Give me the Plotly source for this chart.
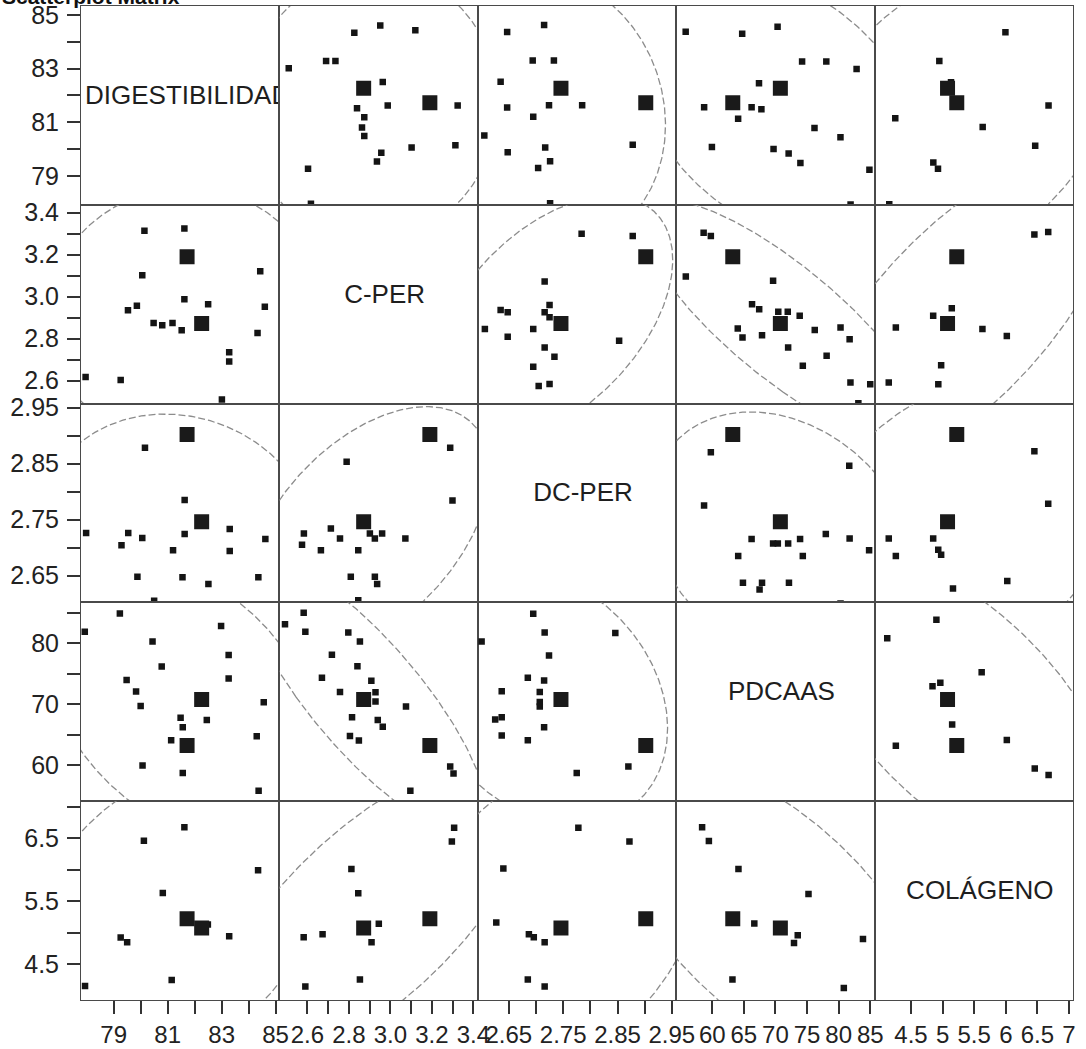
import numpy as np
import plotly.graph_objects as go
from plotly.subplots import make_subplots

variables = ["DIGESTIBILIDAD", "C-PER", "DC-PER", "PDCAAS", "COLÁGENO"]

# axis limits per variable (horizontal axes / vertical axes, as drawn)
dig_xrange = [77.79, 85.14]
dig_yrange = [77.92, 85.33]
cper_xrange = [2.465, 3.421]
cper_yrange = [2.490, 3.437]
dcper_xrange = [2.593, 2.958]
dcper_yrange = [2.602, 2.957]
pdcaas_xrange = [54.30, 85.69]
pdcaas_yrange = [54.10, 86.69]
col_xrange = [3.924, 7.063]
col_yrange = [3.935, 7.091]

# bottom (x) tick values / labels
dig_xticks = [79, 80, 81, 82, 83, 84, 85]
dig_xlabels = ["79", "", "81", "", "83", "", "85"]
cper_xticks = [2.6, 2.7, 2.8, 2.9, 3.0, 3.1, 3.2, 3.3, 3.4]
cper_xlabels = ["2.6", "", "2.8", "", "3.0", "", "3.2", "", "3.4"]
dcper_xticks = [2.65, 2.70, 2.75, 2.80, 2.85, 2.90, 2.95]
dcper_xlabels = ["2.65", "", "2.75", "", "2.85", "", "2.95"]
pdcaas_xticks = [60, 65, 70, 75, 80, 85]
pdcaas_xlabels = ["60", "65", "70", "75", "80", "85"]
col_xticks = [4.5, 5.0, 5.5, 6.0, 6.5, 7.0]
col_xlabels = ["4.5", "5", "5.5", "6", "6.5", "7"]

# left (y) tick values / labels
dig_yticks = [79, 80, 81, 82, 83, 84, 85]
dig_ylabels = ["79", "", "81", "", "83", "", "85"]
cper_yticks = [2.6, 2.7, 2.8, 2.9, 3.0, 3.1, 3.2, 3.3, 3.4]
cper_ylabels = ["2.6", "", "2.8", "", "3.0", "", "3.2", "", "3.4"]
dcper_yticks = [2.65, 2.70, 2.75, 2.80, 2.85, 2.90, 2.95]
dcper_ylabels = ["2.65", "", "2.75", "", "2.85", "", "2.95"]
pdcaas_yticks = [60, 65, 70, 75, 80, 85]
pdcaas_ylabels = ["60", "", "70", "", "80", ""]
col_yticks = [4.5, 5.0, 5.5, 6.0, 6.5, 7.0]
col_ylabels = ["4.5", "", "5.5", "", "6.5", ""]

# highlighted observations (large squares)
hl_dig = [81.72, 82.26]
hl_cper = [3.19, 2.871]
hl_dcper = [2.902, 2.746]
hl_pdcaas = [63.25, 70.78]
hl_col = [5.224, 5.078]

# pairwise observations
p12_cper = [2.510, 2.690, 2.735, 2.826, 2.951, 3.120, 2.963, 2.839, 2.874, 2.863,
            2.874, 2.987, 3.324, 3.102, 3.313, 2.956, 2.935, 2.603, 2.617]
p12_dig = [83.01, 83.28, 83.28, 84.33, 84.60, 84.43, 82.50, 81.52, 81.18, 80.80,
           80.48, 81.62, 81.62, 80.06, 80.14, 79.86, 79.53, 79.26, 77.96]

p13_dcper = [2.647, 2.715, 2.694, 2.733, 2.635, 2.647, 2.724, 2.785, 2.695, 2.605,
             2.648, 2.717, 2.726, 2.704, 2.878, 2.726]
p13_dig = [84.36, 84.62, 83.30, 83.30, 82.51, 81.55, 81.63, 81.63, 81.20, 80.50,
           79.88, 80.06, 79.54, 79.29, 80.16, 77.98]

p14_pdcaas = [55.80, 64.74, 70.34, 74.22, 78.05, 82.84, 67.40, 58.72, 66.23, 67.78,
              64.10, 76.18, 80.29, 59.95, 69.70, 72.09, 73.95, 84.87, 81.89]
p14_dig = [84.37, 84.30, 84.56, 83.26, 83.26, 82.98, 82.45, 81.56, 81.56, 81.48,
           81.13, 80.78, 80.44, 80.07, 80.00, 79.83, 79.48, 79.23, 77.93]

p15_col = [5.994, 4.948, 5.133, 6.676, 4.251, 5.634, 6.465, 4.853, 4.927, 4.156]
p15_dig = [84.35, 83.28, 82.49, 81.62, 81.15, 80.82, 80.12, 79.50, 79.26, 77.94]

p23_dcper = [2.784, 2.878, 2.716, 2.635, 2.648, 2.716, 2.725, 2.725, 2.606, 2.695,
             2.648, 2.716, 2.734, 2.695, 2.705, 2.725, 2.853]
p23_cper = [3.299, 3.288, 3.072, 2.936, 2.925, 2.925, 2.960, 2.901, 2.845, 2.845,
            2.809, 2.757, 2.713, 2.665, 2.574, 2.583, 2.789]

p24_pdcaas = [58.64, 59.78, 55.82, 69.63, 66.30, 67.43, 70.45, 71.95, 73.84, 64.04,
              76.22, 80.30, 64.79, 67.88, 81.74, 72.01, 78.10, 74.33, 81.87, 85.00, 83.12]
p24_cper = [3.304, 3.288, 3.096, 3.075, 2.963, 2.939, 2.928, 2.928, 2.908, 2.848,
            2.841, 2.853, 2.805, 2.815, 2.797, 2.757, 2.718, 2.670, 2.590, 2.582, 2.492]

p25_col = [6.452, 6.671, 4.851, 5.145, 4.260, 5.630, 6.016, 4.977, 4.148, 4.932]
p25_cper = [3.296, 3.307, 2.909, 2.944, 2.853, 2.845, 2.812, 2.673, 2.590, 2.582]

p34_pdcaas = [59.78, 81.68, 58.71, 66.23, 64.11, 69.63, 70.38, 72.01, 73.90, 77.97,
              81.74, 84.82, 74.33, 64.86, 67.88, 67.49, 72.14, 80.30]
p34_dcper = [2.870, 2.846, 2.775, 2.715, 2.685, 2.707, 2.707, 2.707, 2.715, 2.724,
             2.716, 2.695, 2.685, 2.637, 2.637, 2.625, 2.637, 2.600]

p35_col = [6.452, 6.671, 4.148, 4.851, 4.260, 4.931, 4.977, 6.023, 5.164]
p35_dcper = [2.872, 2.778, 2.716, 2.716, 2.685, 2.696, 2.687, 2.640, 2.627]

p45_col = [4.902, 4.124, 5.618, 4.840, 4.964, 5.151, 4.260, 6.016, 6.458, 6.677]
p45_pdcaas = [83.85, 80.82, 75.23, 72.94, 73.53, 66.66, 63.20, 64.15, 59.47, 58.40]

xranges = [dig_xrange, cper_xrange, dcper_xrange, pdcaas_xrange, col_xrange]
yranges = [dig_yrange, cper_yrange, dcper_yrange, pdcaas_yrange, col_yrange]
xticks = [(dig_xticks, dig_xlabels), (cper_xticks, cper_xlabels), (dcper_xticks, dcper_xlabels),
          (pdcaas_xticks, pdcaas_xlabels), (col_xticks, col_xlabels)]
yticks = [(dig_yticks, dig_ylabels), (cper_yticks, cper_ylabels), (dcper_yticks, dcper_ylabels),
          (pdcaas_yticks, pdcaas_ylabels), (col_yticks, col_ylabels)]
highlights = [hl_dig, hl_cper, hl_dcper, hl_pdcaas, hl_col]

# (row var i, column var j, values of var j, values of var i)
pairs = [
    (0, 1, p12_cper, p12_dig),
    (0, 2, p13_dcper, p13_dig),
    (0, 3, p14_pdcaas, p14_dig),
    (0, 4, p15_col, p15_dig),
    (1, 2, p23_dcper, p23_cper),
    (1, 3, p24_pdcaas, p24_cper),
    (1, 4, p25_col, p25_cper),
    (2, 3, p34_pdcaas, p34_dcper),
    (2, 4, p35_col, p35_dcper),
    (3, 4, p45_col, p45_pdcaas),
]

N = 5
ML, MR, MT, MB = 81, 13, 6, 49
W, H = 1086, 1049
fig = make_subplots(rows=N, cols=N, horizontal_spacing=0, vertical_spacing=0)

LEVEL = 0.95


def ellipse(xv, yv):
    # 95% bivariate normal prediction ellipse (F-based)
    X = np.column_stack([xv, yv])
    n = X.shape[0]
    mu = X.mean(axis=0)
    C = np.cov(X.T)
    d2 = n - 2
    f_q = (d2 / 2.0) * ((1 - LEVEL) ** (-2.0 / d2) - 1)
    k = np.sqrt(2.0 * (n - 1) * (n + 1) / (n * (n - 2)) * f_q)
    vals, vecs = np.linalg.eigh(C)
    t = np.linspace(0, 2 * np.pi, 400)
    circ = np.vstack([np.cos(t), np.sin(t)])
    pts = mu[:, None] + vecs @ (np.sqrt(vals)[:, None] * k * circ)
    return pts[0], pts[1]


def add_cell(row, col, xv, yv, hx, hy):
    ex, ey = ellipse(list(xv) + list(hx), list(yv) + list(hy))
    fig.add_trace(go.Scatter(x=ex, y=ey, mode="lines",
                             line=dict(color="#8c8c8c", width=1.3, dash="7px,3px"),
                             hoverinfo="skip"), row=row, col=col)
    fig.add_trace(go.Scatter(x=xv, y=yv, mode="markers",
                             marker=dict(symbol="square", size=6.5, color="#141414"),
                             hoverinfo="skip"), row=row, col=col)
    fig.add_trace(go.Scatter(x=hx, y=hy, mode="markers",
                             marker=dict(symbol="square", size=15, color="#1a1a1a"),
                             hoverinfo="skip"), row=row, col=col)


for (i, j, vj, vi) in pairs:
    add_cell(i + 1, j + 1, vj, vi, highlights[j], highlights[i])
    add_cell(j + 1, i + 1, vi, vj, highlights[i], highlights[j])

CELL_W = (W - ML - MR) / N
CELL_H = (H - MT - MB) / N

# diagonal labels
for k, name in enumerate(variables):
    xlo, xhi = xranges[k]
    ylo, yhi = yranges[k]
    ty = ylo + (0.5 + 8 / CELL_H) * (yhi - ylo)
    if k == 0:
        tx = xlo + (4 / CELL_W) * (xhi - xlo)
        pos = "middle right"
    else:
        tx = xlo + (0.5 + 6 / CELL_W) * (xhi - xlo)
        pos = "middle center"
    fig.add_trace(go.Scatter(x=[tx], y=[ty], mode="text", text=[name], textposition=pos,
                             textfont=dict(family="Liberation Sans, Arial, sans-serif", size=26, color="#1e1e1e"),
                             cliponaxis=True, hoverinfo="skip"), row=k + 1, col=k + 1)

fig.update_layout(
    width=W, height=H,
    margin=dict(l=ML, r=MR, t=MT, b=MB, autoexpand=False),
    paper_bgcolor="white", plot_bgcolor="white",
    showlegend=False,
    font=dict(family="Liberation Sans, Arial, sans-serif", size=24, color="#222222"),
)

for r in range(N):
    for c in range(N):
        n = r * N + c + 1
        xname = "xaxis" if n == 1 else f"xaxis{n}"
        yname = "yaxis" if n == 1 else f"yaxis{n}"
        xd = dict(range=xranges[c], showgrid=False, zeroline=False, showline=True, mirror=True,
                  linecolor="#4a4a4a", linewidth=1, fixedrange=True, automargin=False)
        yd = dict(range=yranges[r], showgrid=False, zeroline=False, showline=True, mirror=True,
                  linecolor="#4a4a4a", linewidth=1, fixedrange=True, automargin=False)
        if r == N - 1:
            tv, tt = xticks[c]
            xd.update(ticks="outside", ticklen=13, tickwidth=1.5, tickcolor="#333333",
                      tickmode="array", tickvals=tv, ticktext=tt, showticklabels=True,
                      tickangle=0, ticklabeloverflow="allow",
                      tickfont=dict(size=24, color="#222222"))
        else:
            xd.update(ticks="", showticklabels=False)
        if c == 0:
            tv, tt = yticks[r]
            yd.update(ticks="outside", ticklen=13, tickwidth=1.5, tickcolor="#333333",
                      tickmode="array", tickvals=tv, ticktext=tt, showticklabels=True,
                      ticklabeloverflow="allow", ticklabelstandoff=3,
                      tickfont=dict(size=25, color="#222222"))
        else:
            yd.update(ticks="", showticklabels=False)
        fig.layout[xname].update(xd)
        fig.layout[yname].update(yd)

fig.add_annotation(text="<b>Scatterplot Matrix</b>", xref="paper", yref="paper",
                   x=0, y=1, xanchor="left", yanchor="middle", xshift=-ML, yshift=10,
                   showarrow=False, font=dict(size=21, color="#111111"))

fig.write_html("out.html", config={"displayModeBar": False},
               post_script="document.body.style.margin='0px'; document.body.style.padding='0px';")
